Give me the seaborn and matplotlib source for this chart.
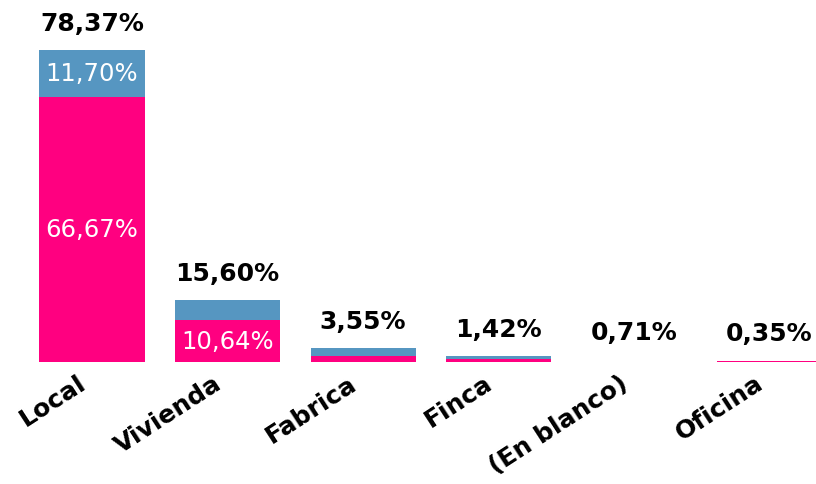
import numpy as np
import matplotlib
matplotlib.use("Agg")
import matplotlib.pyplot as plt
import matplotlib.transforms as mtransforms
import seaborn as sns
import pandas as pd

categorias = ["Local", "Vivienda", "Fabrica", "Finca", "(En blanco)", "Oficina"]
rosa = [66.67, 10.64, 1.42, 0.71, 0.0, 0.35]
azul = [11.70, 4.96, 2.13, 0.71, 0.0, 0.0]
blanco = [0.0, 0.0, 0.0, 0.0, 0.71, 0.0]

c_rosa = "#FF0080"
c_azul = "#5696C1"

def fmt(v):
    return f"{v:.2f}".replace(".", ",") + "%"

sns.set_style("white")
plt.rcParams['font.family'] = ['DejaVu Sans']

fig = plt.figure(figsize=(8.16, 4.85), dpi=100)
ax = fig.add_axes([0, 0.2515, 1, 0.7485])

r = np.array(rosa)
a = np.array(azul)
b = np.array(blanco)
totales = r + a + b
df = pd.DataFrame({
    "cat": categorias,
    "c3": np.where(b > 0, r + a + b, np.nan),
    "c2": np.where(a > 0, r + a, np.nan),
    "c1": np.where(r > 0, r, np.nan),
})

# capas superpuestas, de la mas alta a la mas baja
for col, color in [("c3", "white"), ("c2", c_azul), ("c1", c_rosa)]:
    sns.barplot(data=df, x="cat", y=col, color=color, width=0.775, linewidth=0,
                edgecolor="none", saturation=1, ax=ax)

ax.set_xlim(-0.679, 5.343)
ax.set_ylim(0, 91.2)

for i, tot in enumerate(totales):
    ax.annotate(fmt(tot), (i, tot), xytext=(0, 11), textcoords="offset points",
                ha="center", va="bottom", fontsize=18, fontweight="bold", color="black")
    if rosa[i] >= 10:
        ax.text(i, rosa[i] / 2, fmt(rosa[i]), ha="center", va="center", fontsize=17.5, color="white")
    if azul[i] >= 10:
        ax.text(i, rosa[i] + azul[i] / 2, fmt(azul[i]), ha="center", va="center", fontsize=17.5, color="white")

ax.set_xlabel("")
ax.set_ylabel("")
ax.set_yticks([])
ax.tick_params(axis="x", length=0, pad=6)
ax.set_xticks(range(len(categorias)))
ax.set_xticklabels(categorias, rotation=33, ha="right", rotation_mode="anchor",
                   fontsize=18, fontweight="bold", color="black")
desplaza = mtransforms.ScaledTranslation(-0.15, 0, fig.dpi_scale_trans)
for lab in ax.get_xticklabels():
    lab.set_transform(lab.get_transform() + desplaza)
for s in ax.spines.values():
    s.set_visible(False)
ax.patch.set_alpha(0)

fig.savefig("out.png", dpi=100, facecolor="white")
